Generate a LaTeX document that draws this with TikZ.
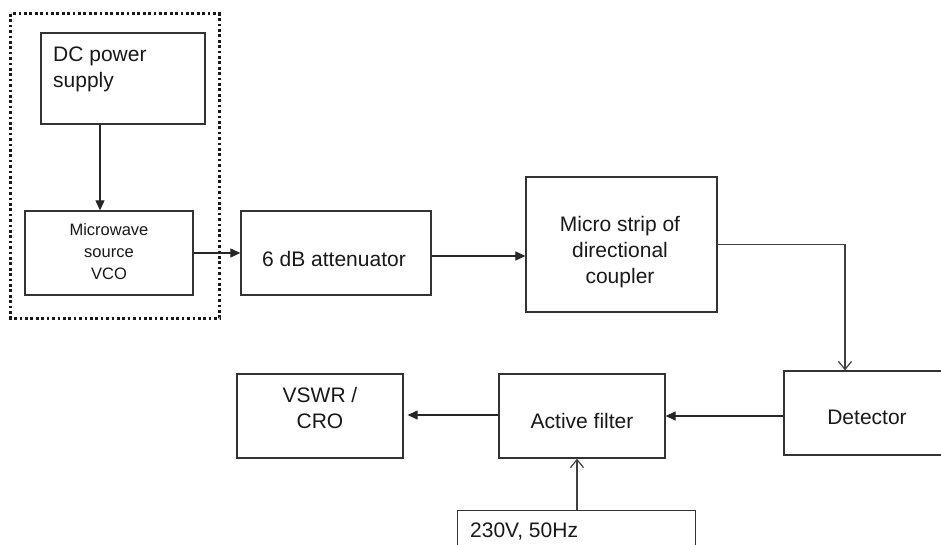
\documentclass[tikz,border=0pt]{standalone}
\usepackage{fontspec}
\setmainfont{Liberation Sans}
\usetikzlibrary{arrows.meta,calc}
\begin{document}
\begin{tikzpicture}[x=1pt,y=-1pt,
  blk/.style={draw=black!80, line width=1.3pt, inner sep=0pt},
  txt/.style={inner sep=0pt, anchor=base, font=\fontsize{21}{25}\selectfont, text=black!90},
  stxt/.style={inner sep=0pt, anchor=base, font=\fontsize{16.5}{21}\selectfont, text=black!90},
  arr/.style={draw=black!85, line width=1.2pt, -{Triangle[length=10pt,width=9pt]}},
  oarr/.style={draw=black!75, line width=1.2pt, -{Straight Barb[length=8pt,width=13pt]}},
  grpbox/.style={draw=black!90, line width=3pt, dash pattern=on 2.7pt off 2.7pt}
]
\useasboundingbox (0,0) rectangle (941,545);
\clip (0,0) rectangle (941,545);
\fill[white] (0,0) rectangle (941,545);

% group
\draw[grpbox] (10.5,14) rectangle (219.5,318);

% blocks
\node[blk, minimum width=164pt, minimum height=91pt] (dc) at (123,78.5) {};
\node[txt, anchor=base west] (dct1) at (53,62) {DC power};
\node[txt, anchor=base west] (dct2) at (53,88) {supply};

\node[blk, minimum width=168pt, minimum height=84pt] (mw) at (109,253) {};
\node[stxt] (mwt1) at (109,235.5) {Microwave};
\node[stxt] (mwt2) at (109,257.5) {source};
\node[stxt] (mwt3) at (109,279.5) {VCO};

\node[blk, minimum width=190pt, minimum height=84pt] (att) at (336,253) {};
\node[txt] (attt) at (334,266) {6 dB attenuator};

\node[blk, minimum width=191pt, minimum height=135pt] (cp) at (621.5,244.5) {};
\node[txt] (cpt1) at (620,231.5) {Micro strip of};
\node[txt] (cpt2) at (620,257.5) {directional};
\node[txt] (cpt3) at (620,283.5) {coupler};

\node[blk, minimum width=166pt, minimum height=84pt] (det) at (867,413) {};
\node[txt] (dett) at (867,424.5) {Detector};

\node[blk, minimum width=166pt, minimum height=84pt] (af) at (582,416) {};
\node[txt] (aft) at (582,428.5) {Active filter};

\node[blk, minimum width=166pt, minimum height=84pt] (vs) at (320,416) {};
\node[txt] (vst1) at (320,402.5) {VSWR /};
\node[txt] (vst2) at (320,428.5) {CRO};

\node[blk, minimum width=238pt, minimum height=60pt, anchor=north west] (pw) at (457,510) {};
\node[txt, anchor=base west] (pwt) at (470,537) {230V, 50Hz};

% connectors
\draw[arr] ([xshift=-23pt]dc.south) -- ([xshift=-23pt]dc.south |- mw.north);
\draw[arr] (mw.east) -- (att.west);
\draw[arr] ([yshift=-3pt]att.east) -- ([yshift=-3pt]att.east -| cp.west);
\draw[oarr] (cp.east) -| ([xshift=-22pt]det.north);
\draw[arr] (det.west |- af.east) -- (af.east);
\draw[arr, shorten >=4pt] ([yshift=1pt]af.west) -- ([yshift=1pt]vs.east);
\draw[oarr] ([xshift=-5pt]af.south |- pw.north) -- ([xshift=-5pt]af.south);
\end{tikzpicture}
\end{document}
